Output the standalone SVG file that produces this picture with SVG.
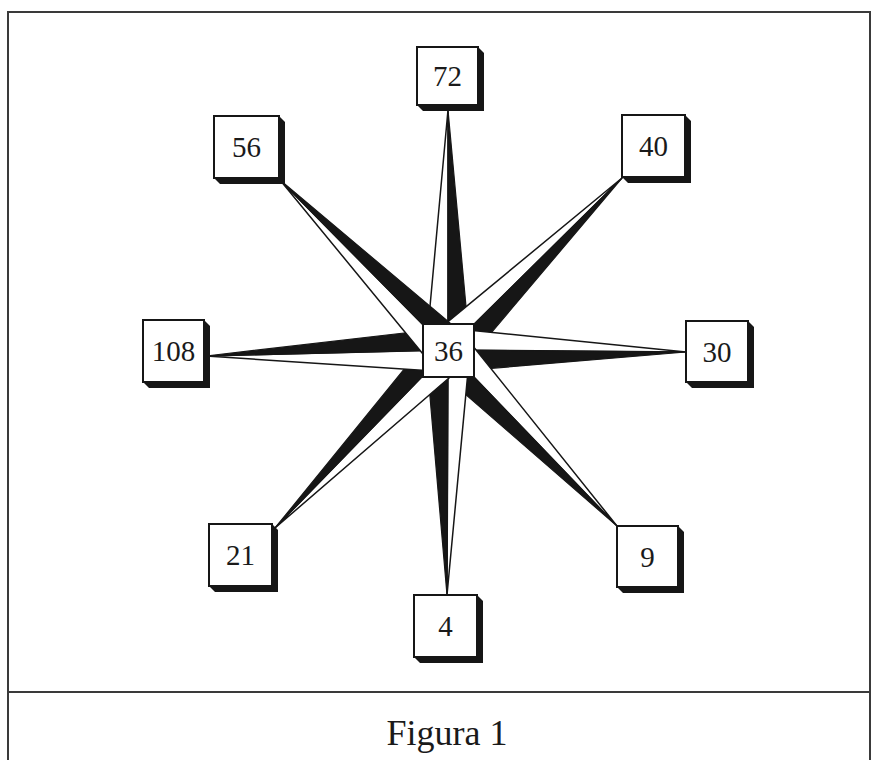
<svg xmlns="http://www.w3.org/2000/svg" width="880" height="760" viewBox="0 0 880 760">
  <style>
    .frame { fill: none; stroke: #3a3a3a; stroke-width: 2; }
    .dark { fill: #161616; stroke: #161616; stroke-width: 1.2; stroke-linejoin: round; }
    .light { fill: #ffffff; stroke: #161616; stroke-width: 1.5; stroke-linejoin: round; }
    .face { fill: #ffffff; stroke: #161616; stroke-width: 2; }
    .shade { fill: #161616; }
    .num { font-family: "Liberation Serif", "Times New Roman", serif; font-size: 29px; fill: #1a1a1a; text-anchor: middle; }
    .caption { font-family: "Liberation Serif", "Times New Roman", serif; font-size: 36px; fill: #1a1a1a; text-anchor: middle; }
  </style>

  <rect width="880" height="760" fill="#ffffff"/>

  <!-- outer frame and caption divider -->
  <rect class="frame" x="8" y="12" width="862" height="760"/>
  <line class="frame" x1="8" y1="692" x2="870" y2="692"/>

  <!-- star rays: each point is split along its axis, dark half on the clockwise side -->
  <g id="connectors">
    <!-- north to 72 -->
    <polygon class="light" points="448,110 448,350 426,350"/>
    <polygon class="dark" points="448,110 448,350 470,350"/>
    <!-- north-east to 40 -->
    <polygon class="light" points="622,178 448,350 432.5,334.4"/>
    <polygon class="dark" points="622,178 448,350 463.5,365.6"/>
    <!-- east to 30 -->
    <polygon class="light" points="686,352 448,350 448.2,328"/>
    <polygon class="dark" points="686,352 448,350 447.8,372"/>
    <!-- south-east to 9 -->
    <polygon class="light" points="617,526 448,350 463.9,334.8"/>
    <polygon class="dark" points="617,526 448,350 432.1,365.2"/>
    <!-- south to 4 -->
    <polygon class="light" points="447,595 448,350 470,350.1"/>
    <polygon class="dark" points="447,595 448,350 426,349.9"/>
    <!-- south-west to 21 -->
    <polygon class="light" points="275,528 448,350 463.8,365.3"/>
    <polygon class="dark" points="275,528 448,350 432.2,334.7"/>
    <!-- west to 108 -->
    <polygon class="light" points="206,356 448,350 448.5,372"/>
    <polygon class="dark" points="206,356 448,350 447.5,328"/>
    <!-- north-west to 56 -->
    <polygon class="light" points="280,180 448,350 432.4,365.5"/>
    <polygon class="dark" points="280,180 448,350 463.6,334.5"/>
  </g>

  <!-- centre node -->
  <g id="node-36">
    <rect class="face" x="423" y="324" width="51" height="53"/>
    <text class="num" x="448.5" y="361">36</text>
  </g>

  <!-- outer nodes: white face with an extruded shadow to the lower right -->
  <g id="node-72">
    <polygon class="shade" points="478,47 484,53 484,111 423,111 417,105"/>
    <rect class="face" x="417" y="47" width="61" height="58"/>
    <text class="num" x="447.5" y="86">72</text>
  </g>

  <g id="node-56">
    <polygon class="shade" points="279,116 285,122 285,184 220,184 214,178"/>
    <rect class="face" x="214" y="116" width="65" height="62"/>
    <text class="num" x="246.5" y="157">56</text>
  </g>

  <g id="node-40">
    <polygon class="shade" points="685,115 691,121 691,183 628,183 622,177"/>
    <rect class="face" x="622" y="115" width="63" height="62"/>
    <text class="num" x="653.5" y="156">40</text>
  </g>

  <g id="node-108">
    <polygon class="shade" points="204,320 210,326 210,388 149,388 143,382"/>
    <rect class="face" x="143" y="320" width="61" height="62"/>
    <text class="num" x="173.5" y="361">108</text>
  </g>

  <g id="node-30">
    <polygon class="shade" points="748,321 754,327 754,388 692,388 686,382"/>
    <rect class="face" x="686" y="321" width="62" height="61"/>
    <text class="num" x="717" y="362">30</text>
  </g>

  <g id="node-21">
    <polygon class="shade" points="272,524 278,530 278,592 215,592 209,586"/>
    <rect class="face" x="209" y="524" width="63" height="62"/>
    <text class="num" x="240.5" y="565">21</text>
  </g>

  <g id="node-9">
    <polygon class="shade" points="678,526 684,532 684,593 623,593 617,587"/>
    <rect class="face" x="617" y="526" width="61" height="61"/>
    <text class="num" x="647.5" y="567">9</text>
  </g>

  <g id="node-4">
    <polygon class="shade" points="477,595 483,601 483,663 420,663 414,657"/>
    <rect class="face" x="414" y="595" width="63" height="62"/>
    <text class="num" x="445.5" y="636">4</text>
  </g>

  <text class="caption" x="447" y="745">Figura 1</text>
</svg>
